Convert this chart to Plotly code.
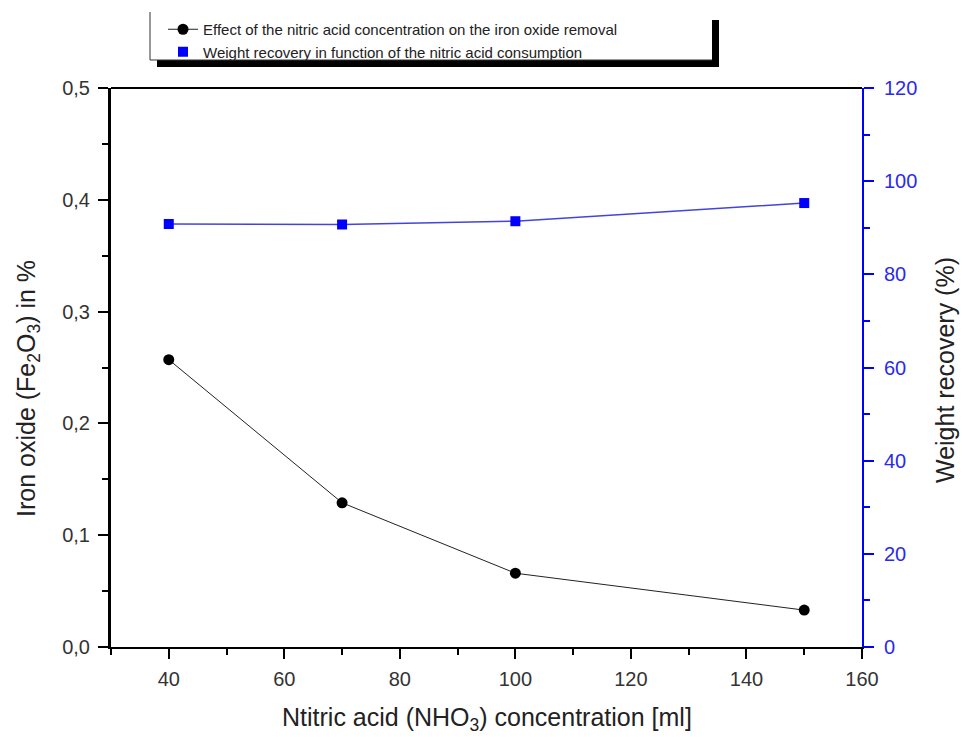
import plotly.graph_objects as go

# Data
acid_ml = [40, 70, 100, 150]
iron_oxide_pct = [0.257, 0.129, 0.066, 0.033]
weight_recovery_pct = [90.8, 90.7, 91.4, 95.3]

x_ticks = [40, 60, 80, 100, 120, 140, 160]
x_minor = [30, 50, 70, 90, 110, 130, 150]
y1_ticks = [0, 0.1, 0.2, 0.3, 0.4, 0.5]
y1_minor = [0.05, 0.15, 0.25, 0.35, 0.45]
y2_ticks = [0, 20, 40, 60, 80, 100, 120]
y2_minor = [10, 30, 50, 70, 90, 110]

name1 = "Effect of the nitric acid concentration on the iron oxide removal"
name2 = "Weight recovery in function of the nitric acid consumption"
x_title = "Ntitric acid (NHO<sub>3</sub>) concentration [ml]"
y1_title = "Iron oxide (Fe<sub>2</sub>O<sub>3</sub>) in %"
y2_title = "Weight recovery (%)"

FONT = "Liberation Sans, Arial, sans-serif"
BLUE = "#0000ff"
TXT = "#222222"

W, H = 962, 737
L, R, T, B = 111, 100, 88, 90
PW, PH = W - L - R, H - T - B


def px(xp):
    return (xp - L) / PW


def py(yp):
    return 1 - (yp - T) / PH


fig = go.Figure()
fig.add_trace(go.Scatter(
    x=acid_ml, y=iron_oxide_pct, mode="lines+markers", name=name1,
    line=dict(color="#222222", width=1),
    marker=dict(symbol="circle", size=11, color="black"),
))
fig.add_trace(go.Scatter(
    x=acid_ml, y=weight_recovery_pct, mode="lines", showlegend=False,
    line=dict(color="#4444dd", width=1.5), yaxis="y2", hoverinfo="skip",
))
fig.add_trace(go.Scatter(
    x=acid_ml, y=weight_recovery_pct, mode="markers", name=name2,
    marker=dict(symbol="square", size=10, color=BLUE), yaxis="y2",
))

fig.update_layout(
    width=W, height=H,
    margin=dict(l=L, r=R, t=T, b=B, autoexpand=False),
    paper_bgcolor="white", plot_bgcolor="white",
    separators=",.",
    font=dict(family=FONT, color=TXT),
    showlegend=True,
    legend=dict(
        x=px(163), y=py(13),
        xanchor="left", yanchor="top",
        bgcolor="rgba(0,0,0,0)", borderwidth=0,
        font=dict(size=15, family=FONT, color=TXT),
        tracegroupgap=0, itemwidth=30,
    ),
    xaxis=dict(
        range=[30, 160], tickvals=x_ticks,
        showgrid=False, zeroline=False,
        showline=True, linecolor="black", linewidth=2,
        ticks="outside", ticklen=10, tickwidth=2, tickcolor="black",
        minor=dict(tickvals=x_minor, ticks="outside", ticklen=6, tickwidth=2, tickcolor="black"),
        tickfont=dict(size=20, color="#333333"),
        ticklabelstandoff=3,
    ),
    yaxis=dict(
        range=[0, 0.5], tickvals=y1_ticks, tickformat=".1f",
        showgrid=False, zeroline=False,
        showline=True, linecolor="black", linewidth=3,
        ticks="outside", ticklen=10, tickwidth=2, tickcolor="black",
        minor=dict(tickvals=y1_minor, ticks="outside", ticklen=6, tickwidth=2, tickcolor="black"),
        tickfont=dict(size=20, color="#333333"),
        ticklabelstandoff=4,
    ),
    yaxis2=dict(
        overlaying="y", side="right", range=[0, 120],
        tickvals=y2_ticks,
        showgrid=False, zeroline=False,
        showline=True, linecolor=BLUE, linewidth=2,
        ticks="outside", ticklen=10, tickwidth=2, tickcolor=BLUE,
        minor=dict(tickvals=y2_minor, ticks="outside", ticklen=6, tickwidth=2, tickcolor=BLUE),
        tickfont=dict(size=20, color="#2a2aee"),
        ticklabelstandoff=6,
    ),
)

# top frame line
fig.add_shape(type="line", xref="paper", yref="paper", x0=0, x1=1, y0=1, y1=1,
              line=dict(color="black", width=2))

# legend box with drop shadow (decoration behind the legend)
fig.add_shape(type="rect", xref="paper", yref="paper",
              x0=px(157), x1=px(719), y0=py(67), y1=py(20),
              fillcolor="black", line=dict(width=0), layer="above")
fig.add_shape(type="rect", xref="paper", yref="paper",
              x0=px(150), x1=px(712), y0=py(60), y1=py(8),
              fillcolor="white", line=dict(width=0), layer="above")
fig.add_shape(type="line", xref="paper", yref="paper",
              x0=px(150), x1=px(150), y0=py(60), y1=py(12),
              line=dict(color="#333333", width=1), layer="above")
fig.add_shape(type="line", xref="paper", yref="paper",
              x0=px(150), x1=px(712), y0=py(60), y1=py(60),
              line=dict(color="#333333", width=1), layer="above")

# axis titles
fig.add_annotation(text=x_title, xref="paper", yref="paper", x=px(487), y=py(719),
                   xanchor="center", yanchor="middle", showarrow=False,
                   font=dict(size=25, color=TXT))
fig.add_annotation(text=y1_title, xref="paper", yref="paper", x=px(28), y=py(389),
                   xanchor="center", yanchor="middle", showarrow=False, textangle=-90,
                   font=dict(size=25, color=TXT))
fig.add_annotation(text=y2_title, xref="paper", yref="paper", x=px(945), y=py(370),
                   xanchor="center", yanchor="middle", showarrow=False, textangle=-90,
                   font=dict(size=25, color=TXT))

fig.write_html("out.html", config={"displayModeBar": False},
               post_script="document.body.style.margin='0';")
